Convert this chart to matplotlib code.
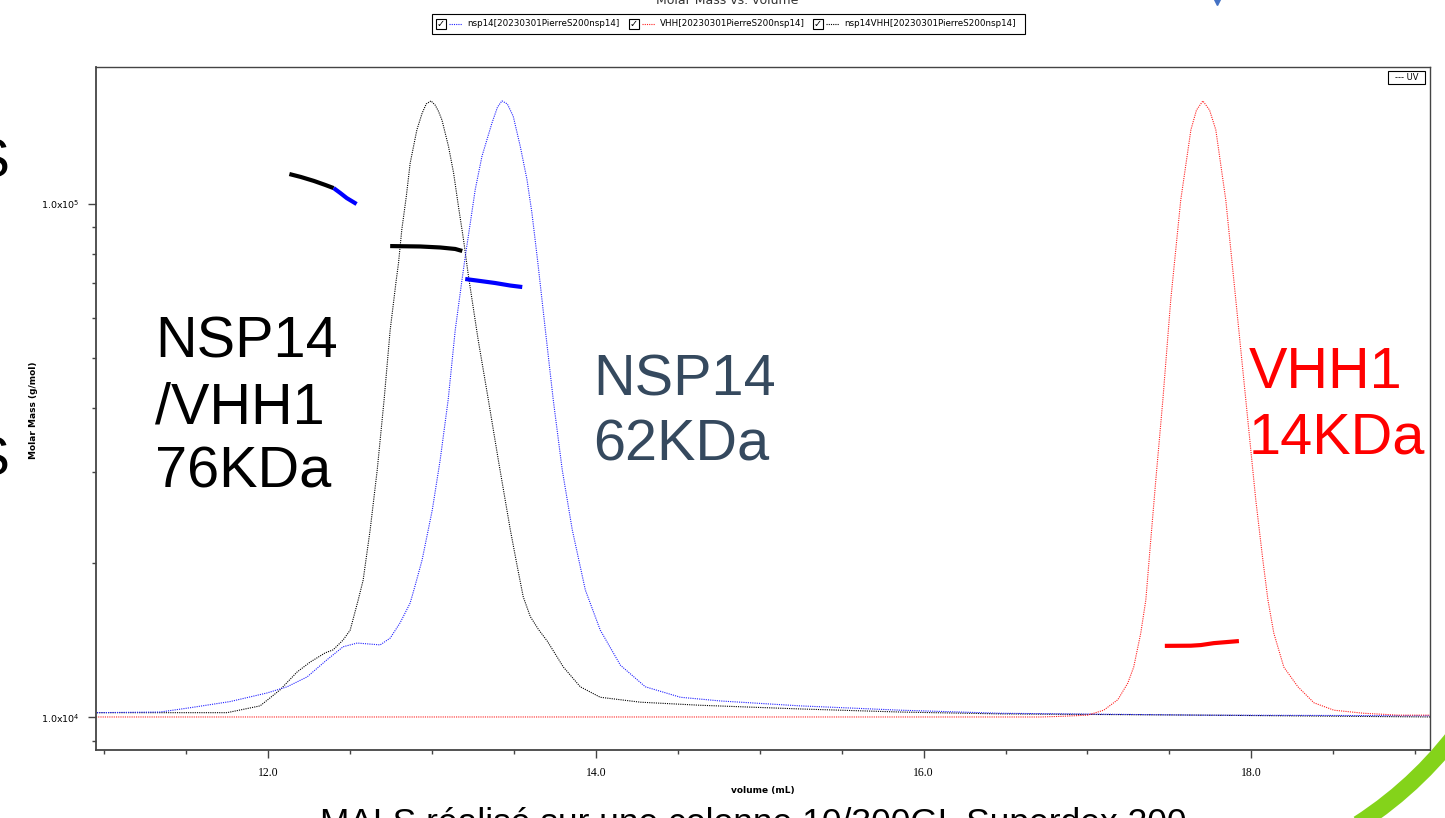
import numpy as np
import matplotlib
matplotlib.use("Agg")
import matplotlib.pyplot as plt
from matplotlib.patches import Rectangle, Arc
from matplotlib.ticker import FixedLocator, FixedFormatter, LogLocator, NullFormatter

# UV traces (normalised, peak = 1) vs elution volume (mL)
nsp14vhh_vol = [10.956, 11.340, 11.750, 11.951, 12.073, 12.177, 12.256, 12.348, 12.397, 12.458,
                12.501, 12.550, 12.580, 12.623, 12.666, 12.708, 12.745, 12.782, 12.796, 12.816,
                12.843, 12.867, 12.908, 12.940, 12.965, 12.994, 13.020, 13.040, 13.061, 13.101,
                13.132, 13.162, 13.193, 13.223, 13.282, 13.344, 13.405, 13.478, 13.520, 13.557,
                13.600, 13.650, 13.704, 13.802, 13.905, 14.027, 14.272, 14.638, 15.249, 15.860,
                16.470, 17.692, 19.096]
nsp14vhh_uv = [0.007, 0.007, 0.007, 0.018, 0.044, 0.073, 0.089, 0.104, 0.109, 0.125,
               0.141, 0.190, 0.222, 0.304, 0.401, 0.515, 0.628, 0.709, 0.737, 0.791,
               0.844, 0.899, 0.953, 0.980, 0.995, 1.000, 0.993, 0.983, 0.969, 0.926,
               0.883, 0.828, 0.774, 0.715, 0.612, 0.515, 0.417, 0.304, 0.245, 0.195,
               0.163, 0.142, 0.123, 0.081, 0.049, 0.032, 0.024, 0.019, 0.013, 0.008,
               0.005, 0.003, 0.000]

nsp14_vol = [10.956, 11.340, 11.524, 11.768, 11.994, 12.116, 12.238, 12.360, 12.458, 12.544,
             12.684, 12.745, 12.806, 12.867, 12.898, 12.940, 13.002, 13.050, 13.099, 13.142,
             13.183, 13.203, 13.234, 13.264, 13.305, 13.366, 13.400, 13.427, 13.460, 13.496,
             13.539, 13.580, 13.610, 13.645, 13.692, 13.740, 13.795, 13.856, 13.936, 14.027,
             14.150, 14.302, 14.516, 14.760, 15.249, 15.860, 16.470, 17.692, 19.096]
nsp14_uv = [0.007, 0.008, 0.015, 0.025, 0.039, 0.049, 0.065, 0.093, 0.114, 0.120,
            0.117, 0.128, 0.153, 0.185, 0.214, 0.255, 0.336, 0.417, 0.515, 0.628,
            0.709, 0.747, 0.802, 0.856, 0.910, 0.964, 0.990, 1.000, 0.995, 0.975,
            0.926, 0.872, 0.818, 0.740, 0.628, 0.515, 0.401, 0.304, 0.206, 0.141,
            0.084, 0.049, 0.032, 0.026, 0.018, 0.011, 0.006, 0.003, 0.002]

vhh_vol = [10.950, 16.715, 16.837, 17.002, 17.099, 17.185, 17.246, 17.282, 17.325, 17.356,
           17.386, 17.417, 17.460, 17.508, 17.569, 17.631, 17.665, 17.704, 17.745, 17.783,
           17.844, 17.905, 17.966, 18.027, 18.070, 18.101, 18.137, 18.198, 18.284, 18.382,
           18.504, 18.687, 18.895, 19.096]
vhh_uv = [0.000, 0.000, 0.001, 0.003, 0.011, 0.028, 0.055, 0.081, 0.136, 0.190,
          0.287, 0.385, 0.515, 0.677, 0.839, 0.953, 0.985, 1.000, 0.985, 0.953,
          0.839, 0.677, 0.515, 0.352, 0.255, 0.190, 0.136, 0.081, 0.049, 0.023,
          0.011, 0.006, 0.003, 0.003]

# molar mass (g/mol) across the peaks
mm_black1_vol = [12.13, 12.20, 12.28, 12.35, 12.40]
mm_black1 = [114400, 112900, 110900, 108900, 107400]
mm_blue1_vol = [12.40, 12.44, 12.48, 12.52, 12.54]
mm_blue1 = [107400, 105100, 102700, 100900, 100000]
mm_black2_vol = [12.745, 12.928, 13.050, 13.142, 13.185]
mm_black2 = [82800, 82650, 82280, 81730, 81000]
mm_blue2_vol = [13.203, 13.295, 13.386, 13.478, 13.551]
mm_blue2 = [71430, 70790, 70150, 69360, 68900]
mm_red_vol = [17.472, 17.631, 17.692, 17.771, 17.924]
mm_red = [13770, 13780, 13820, 13940, 14070]

x_major = [12.0, 14.0, 16.0, 18.0]
x_major_labels = ["12.0", "14.0", "16.0", "18.0"]
y_major = [1e4, 1e5]
y_major_labels = [r"1.0x10$^{4}$", r"1.0x10$^{5}$"]
legend_labels = ["nsp14[20230301PierreS200nsp14]", "VHH[20230301PierreS200nsp14]",
                 "nsp14VHH[20230301PierreS200nsp14]"]

W, H = 1445, 818
fig = plt.figure(figsize=(W / 100, H / 100), dpi=100)
fig.patch.set_facecolor("white")

ax = fig.add_axes([96 / W, 1 - 750 / H, (1430 - 96) / W, (750 - 67) / H])
ax2 = ax.twinx()
ax.set_zorder(ax2.get_zorder() + 1)
ax.patch.set_visible(False)

dot = (0, (1, 1))
ax2.plot(nsp14vhh_vol, nsp14vhh_uv, color="black", lw=0.8, ls=dot)
ax2.plot(nsp14_vol, nsp14_uv, color="#2020ff", lw=0.8, ls=dot)
ax2.plot(vhh_vol, vhh_uv, color="#ff2020", lw=0.8, ls=dot)
ax2.set_ylim(-0.0536, 1.055)
ax2.set_yticks([])
for s in ax2.spines.values():
    s.set_visible(False)

ax.plot(mm_black1_vol, mm_black1, color="black", lw=3, solid_capstyle="butt")
ax.plot(mm_blue1_vol, mm_blue1, color="#0000ff", lw=3, solid_capstyle="butt")
ax.plot(mm_black2_vol, mm_black2, color="black", lw=3, solid_capstyle="butt")
ax.plot(mm_blue2_vol, mm_blue2, color="#0000ff", lw=3, solid_capstyle="butt")
ax.plot(mm_red_vol, mm_red, color="#ff0000", lw=3, solid_capstyle="butt")

ax.set_yscale("log")
ax.set_xlim(10.95, 19.09)
ax.set_ylim(10 ** 3.936, 10 ** 5.267)

ax.xaxis.set_major_locator(FixedLocator(x_major))
ax.xaxis.set_major_formatter(FixedFormatter(x_major_labels))
ax.xaxis.set_minor_locator(FixedLocator(np.arange(11.0, 19.01, 0.5)))
ax.yaxis.set_major_locator(FixedLocator(y_major))
ax.yaxis.set_major_formatter(FixedFormatter(y_major_labels))
ax.yaxis.set_minor_locator(LogLocator(base=10, subs=np.arange(2, 10)))
ax.yaxis.set_minor_formatter(NullFormatter())

ax.tick_params(axis="both", which="major", length=6, width=1, color="#444444", direction="out")
ax.tick_params(axis="both", which="minor", length=3, width=1, color="#444444", direction="out")
ax.tick_params(axis="x", labelsize=8.5, pad=6)
ax.tick_params(axis="y", labelsize=6.8, pad=6)
for lab in ax.get_xticklabels():
    lab.set_family("Liberation Serif")
for s in ax.spines.values():
    s.set_color("#444444")
    s.set_linewidth(1)
ax.spines["left"].set_linewidth(1.3)
ax.spines["bottom"].set_linewidth(1.3)

fig.text(33 / W, 1 - 410 / H, "Molar Mass (g/mol)", rotation=90, fontsize=6.5,
         fontweight="bold", ha="center", va="center")
fig.text(763 / W, 1 - 791 / H, "volume (mL)", fontsize=6.5, fontweight="bold",
         ha="center", va="center")

# UV legend in the corner
ax.add_patch(Rectangle((0.9685, 0.975), 0.0278, 0.019, transform=ax.transAxes,
                       fill=False, ec="black", lw=0.8, clip_on=False))
ax.text(0.9824, 0.9845, "--- UV", transform=ax.transAxes, fontsize=6, ha="center", va="center")

# title (cut off at top) and legend strip
fig.text(727 / W, 1 - 4 / H, "Molar Mass vs. volume", fontsize=9, ha="center", va="baseline",
         color="#333333")
fig.patches.append(Rectangle((432 / W, 1 - 34 / H), (1025 - 432) / W, 20 / H,
                             transform=fig.transFigure, fill=False, ec="black", lw=0.8))
leg_colors = ["#2020ff", "#ff2020", "black"]
leg_x = [436, 629, 813]
for lx, col, lab in zip(leg_x, leg_colors, legend_labels):
    fig.patches.append(Rectangle((lx / W, 1 - 29 / H), 10 / W, 10 / H, transform=fig.transFigure,
                                 fill=False, ec="black", lw=0.8))
    fig.text((lx + 5) / W, 1 - 24 / H, "\u2713", fontsize=7, fontweight="bold",
             ha="center", va="center")
    fig.add_artist(plt.Line2D([(lx + 13) / W, (lx + 26) / W], [1 - 24 / H, 1 - 24 / H],
                              transform=fig.transFigure, color=col, lw=0.8, ls=dot))
    fig.text((lx + 31) / W, 1 - 24 / H, lab, fontsize=6.3, ha="left", va="center")

# slide annotations
big = dict(family="Liberation Sans", fontsize=41.5)
fig.text(155 / W, 1 - 357 / H, "NSP14", color="black", ha="left", va="baseline", **big)
fig.text(155 / W, 1 - 423 / H, "/VHH1", color="black", ha="left", va="baseline", **big)
fig.text(155 / W, 1 - 488 / H, "76KDa", color="black", ha="left", va="baseline", **big)
fig.text(593 / W, 1 - 395 / H, "NSP14", color="#35495e", ha="left", va="baseline", **big)
fig.text(593 / W, 1 - 460 / H, "62KDa", color="#35495e", ha="left", va="baseline", **big)
fig.text(1249 / W, 1 - 388 / H, "VHH1", color="#ff0000", ha="left", va="baseline", **big)
fig.text(1249 / W, 1 - 453 / H, "14KDa", color="#ff0000", ha="left", va="baseline", **big)

# cropped slide bits
fig.text(9 / W, 1 - 178 / H, "S", family="Liberation Sans", fontsize=40, ha="right", va="baseline")
fig.text(9 / W, 1 - 476 / H, "S", family="Liberation Sans", fontsize=40, ha="right", va="baseline")
fig.text(320 / W, 1 - 833 / H, "MALS réalisé sur une colonne 10/300GL Superdex 200",
         family="Liberation Sans", fontsize=25.5, ha="left", va="baseline")
fig.add_artist(plt.Line2D([1217 / W], [1 - 1 / H], transform=fig.transFigure, marker="v",
                          color="#4472c4", markersize=6, ls="none"))
fig.patches.append(Arc((1150 / W, 1 - 500 / H), 2 * 385 / W, 2 * 385 / H, theta1=-70, theta2=-20,
                       transform=fig.transFigure, color="#84d31a", lw=12))

fig.savefig("out.png", dpi=100)
